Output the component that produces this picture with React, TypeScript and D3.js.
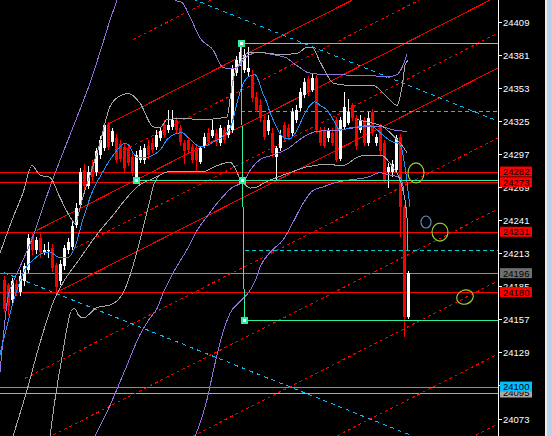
import React from 'react';
import * as d3 from 'd3';

const W = 552;
const H = 436;
const PLOT_W = 498;

// ---- candles (price units) ----
const open = [
  24190, 24186, 24173, 24187, 24180, 24189, 24199, 24227, 24216, 24226,
  24214, 24215, 24217, 24203, 24189, 24202, 24216, 24218, 24237, 24254,
  24283, 24270, 24287, 24282, 24296, 24302, 24322, 24307, 24310, 24305,
  24303, 24302, 24294, 24277, 24292, 24292, 24304, 24306, 24303, 24310,
  24321, 24317, 24320, 24326, 24319, 24306, 24309, 24303, 24302, 24290,
  24304, 24315, 24312, 24315, 24306, 24317, 24313, 24317, 24365, 24374,
  24368, 24366, 24364, 24345, 24338, 24326, 24316, 24315, 24294, 24302,
  24321, 24319, 24315, 24326, 24336, 24347, 24360, 24351, 24361, 24317,
  24317, 24310, 24315, 24326, 24293, 24320, 24323, 24338, 24327, 24317,
  24326, 24306, 24332, 24306, 24320, 24306, 24282, 24282, 24283, 24311,
  24252, 24159,
];
const high = [
  24194, 24188, 24192, 24190, 24199, 24205, 24229, 24231, 24227, 24230,
  24221, 24222, 24221, 24205, 24207, 24220, 24226, 24239, 24255, 24285,
  24288, 24287, 24292, 24302, 24312, 24322, 24324, 24319, 24314, 24309,
  24306, 24304, 24298, 24299, 24304, 24305, 24309, 24310, 24317, 24320,
  24326, 24334, 24334, 24328, 24321, 24309, 24311, 24305, 24304, 24304,
  24315, 24319, 24326, 24318, 24321, 24320, 24326, 24372, 24380, 24391,
  24386, 24387, 24368, 24349, 24343, 24329, 24330, 24319, 24304, 24317,
  24324, 24322, 24336, 24338, 24353, 24361, 24363, 24365, 24364, 24320,
  24320, 24319, 24319, 24328, 24328, 24349, 24343, 24340, 24330, 24330,
  24328, 24332, 24335, 24314, 24322, 24309, 24289, 24292, 24313, 24314,
  24254, 24198,
];
const low = [
  24163, 24161, 24170, 24177, 24177, 24185, 24196, 24211, 24212, 24209,
  24211, 24209, 24197, 24179, 24186, 24199, 24212, 24216, 24234, 24251,
  24266, 24267, 24274, 24278, 24293, 24299, 24300, 24304, 24289, 24290,
  24282, 24287, 24278, 24274, 24289, 24288, 24293, 24298, 24300, 24308,
  24310, 24315, 24317, 24315, 24304, 24288, 24298, 24289, 24281, 24288,
  24302, 24304, 24310, 24304, 24304, 24306, 24310, 24315, 24363, 24371,
  24365, 24363, 24341, 24332, 24324, 24309, 24313, 24294, 24274, 24299,
  24308, 24309, 24312, 24323, 24333, 24344, 24346, 24349, 24315, 24304,
  24302, 24307, 24304, 24290, 24291, 24317, 24321, 24325, 24300, 24315,
  24304, 24304, 24312, 24304, 24296, 24272, 24268, 24277, 24281, 24227,
  24142, 24157,
];
const close = [
  24166, 24168, 24189, 24180, 24194, 24202, 24226, 24216, 24224, 24214,
  24216, 24216, 24200, 24184, 24204, 24217, 24222, 24236, 24251, 24282,
  24270, 24282, 24277, 24299, 24309, 24321, 24303, 24316, 24292, 24293,
  24285, 24289, 24282, 24296, 24300, 24302, 24296, 24300, 24313, 24316,
  24313, 24321, 24326, 24317, 24307, 24299, 24300, 24292, 24292, 24302,
  24311, 24307, 24317, 24307, 24319, 24309, 24321, 24370, 24376, 24383,
  24381, 24370, 24344, 24334, 24327, 24311, 24326, 24298, 24302, 24313,
  24310, 24311, 24332, 24334, 24349, 24358, 24349, 24361, 24317, 24306,
  24304, 24316, 24306, 24292, 24326, 24337, 24332, 24327, 24304, 24326,
  24306, 24327, 24315, 24311, 24299, 24275, 24286, 24288, 24310, 24252,
  24159, 24196,
];

// ---- indicator lines: [bar index, price] ----
const maBlue: [number, number][] = [
  [-1, 24127], [3.25, 24182], [5.25, 24199], [7.25, 24207], [9.75, 24213], [11.5, 24214],
  [13.25, 24210], [14.75, 24209], [16, 24209], [17, 24213], [17.75, 24218], [19.5, 24239],
  [20.75, 24252], [21.5, 24260], [23.25, 24273], [24.75, 24282], [26.5, 24292], [28.25, 24300],
  [30.25, 24306], [31.5, 24303], [32.25, 24298], [33.25, 24294], [35.75, 24294], [37.25, 24296],
  [39, 24300], [40.75, 24309], [42.25, 24313], [44.5, 24315], [46, 24311], [47.25, 24307],
  [49, 24303], [50.75, 24304], [52.25, 24307], [54, 24310], [55.75, 24315], [57, 24323],
  [58.25, 24340], [59.5, 24354], [61, 24362], [62.75, 24364], [63.5, 24360], [64.75, 24348],
  [65.75, 24340], [66.5, 24332], [67.25, 24326], [68.5, 24317], [70.25, 24310], [71.5, 24310],
  [73.25, 24317], [74.75, 24328], [76.5, 24338], [77.75, 24341], [79, 24338], [80.75, 24334],
  [82.25, 24326], [84, 24317], [86.5, 24319], [89, 24320], [90.75, 24321], [92.25, 24320],
  [94, 24315], [95.75, 24310], [97.25, 24307], [98.5, 24306], [99.5, 24300], [100.25, 24286],
  [101, 24266], [101.5, 24252],
];
const bandUpper: [number, number][] = [
  [-1, 24213], [2.25, 24243], [4.75, 24264], [7, 24287], [9, 24279], [11.5, 24277],
  [14, 24260], [17, 24241], [17.75, 24238], [19.5, 24258], [21.5, 24279], [24, 24306],
  [26.5, 24337], [29, 24346], [31, 24348], [34, 24340], [37.25, 24320], [39, 24319],
  [40.75, 24326], [44.75, 24327], [49, 24326], [55.75, 24328], [56.5, 24343], [57.25, 24359],
  [59, 24374], [61.5, 24383], [66.5, 24382], [69, 24381], [73.25, 24382], [75.75, 24387],
  [77, 24387], [79, 24375], [80.75, 24364], [82.25, 24357], [85.75, 24355], [92.25, 24355],
  [94, 24351], [95.75, 24345], [97.25, 24340], [98.25, 24338], [99, 24345], [99.75, 24359],
  [100.25, 24372], [101, 24376],
];
const bandMidLeft: [number, number][] = [
  [2.25, 24058], [5.75, 24097], [9, 24137], [12.25, 24171], [14.75, 24188], [18.25, 24205],
  [24, 24232], [27.25, 24245], [30.75, 24260], [34, 24271], [37.25, 24276], [39, 24279],
];
const bandLower: [number, number][] = [
  [11.5, 24058], [12.75, 24089], [14.5, 24125], [17, 24165], [17.75, 24166], [18.5, 24161],
  [19.75, 24158], [23.25, 24167], [26.5, 24169], [29.75, 24179], [31.5, 24194], [34, 24224],
  [35.75, 24248], [36.5, 24258], [37.25, 24269], [39, 24279], [41.5, 24282], [45.75, 24282],
  [49.75, 24282], [53.25, 24287], [56.5, 24290], [57.75, 24285], [59, 24276], [60.25, 24271],
  [61.5, 24268], [63.25, 24269], [64.75, 24272], [68.25, 24277], [72.25, 24282], [75.75, 24286],
  [80.75, 24288], [84.75, 24287], [88.25, 24294], [90.75, 24296], [94, 24296], [96.5, 24289],
  [99.75, 24266], [100.75, 24243], [101, 24216],
];
const bandMidRight: [number, number][] = [
  [88.25, 24326], [90.75, 24324], [94.75, 24320], [96.5, 24315], [98.25, 24309], [99.75, 24303],
  [100.75, 24298],
];
const envLeft: [number, number][] = [
  [-1, 24112], [0, 24148], [1, 24176], [2.25, 24188], [4.75, 24207], [7.25, 24227],
  [9.75, 24252], [12.25, 24276], [14.75, 24298], [18.25, 24328], [21.5, 24357], [24.75, 24391],
  [26.5, 24410], [28.25, 24427], [29.75, 24442],
];
const envTop: [number, number][] = [
  [42, 24432], [42.75, 24427], [44.5, 24425], [46.5, 24413], [49, 24395], [52.25, 24385],
  [54.75, 24370], [56.5, 24369], [58.25, 24370], [60.25, 24378], [61.5, 24381], [64, 24383],
  [67.25, 24381], [70.75, 24378], [72.25, 24374], [74, 24370], [75.75, 24366], [77.25, 24365],
  [80.75, 24364], [84, 24364], [88.25, 24363], [92.25, 24363], [95.75, 24362], [98.25, 24364],
  [99.5, 24370], [100.75, 24381],
];
const envMid: [number, number][] = [
  [22.75, 24058], [26.5, 24084], [30.25, 24114], [34, 24144], [36.5, 24158], [38.25, 24166],
  [39.75, 24179], [42.25, 24196], [45.75, 24216], [48.25, 24232], [50.75, 24244], [53.25, 24255],
  [57.25, 24269], [59.75, 24273], [61.5, 24283], [64, 24292], [67.25, 24296], [70.75, 24301],
  [74.75, 24311], [78.25, 24316], [83.25, 24317], [90.75, 24320], [94, 24320], [97.75, 24317],
  [100.75, 24316],
];
const envLow: [number, number][] = [
  [47.75, 24058], [49, 24069], [50.75, 24089], [52.25, 24112], [54, 24137], [56.5, 24162],
  [59, 24172], [61, 24179], [62.75, 24189], [64, 24201], [67.25, 24216], [69.75, 24224],
  [72.25, 24239], [74.75, 24255], [77.25, 24266], [79.75, 24269], [83.25, 24273], [86.5, 24275],
  [90.75, 24277], [94, 24281], [96.5, 24279], [99, 24277], [100, 24266],
];

// ---- red parallel channel: price at bar 0, first bar, solid? ----
const channelBase = [24338.3, 24277.4, 24248.6, 24218.1, 24186.8, 24157.2, 24098.0, 24037.9, 23976.9, 23915.1, 23855.9];
const channelStart = [32.25, 26, 30, 8.25, 17.75, 13.25, 5.25, -1, -1, -1, -1];
const channelSolid = [false, true, false, true, false, true, false, false, false, false, false];
const channelSlope = 1.72; // price per bar

// ---- cyan dashed diagonals ----
const cyanDiagBase = [24491.9, 24196.5];
const cyanDiagStart = [-1, 0];
const cyanSlope = -1.354;

// ---- horizontal lines ----
const hLines = [24282, 24273, 24231, 24196, 24180, 24100, 24095];
const hLineColors = ['#ff0000', '#ff0000', '#ff0000', '#8c8c8c', '#ff0000', '#00bfff', '#a9a9a9'];
const cyanH: [number, number][] = [[59.25, 24333.2], [60.25, 24215.6]];

// ---- green objects ----
const greenH: [number, number][] = [[59.25, 24390.8], [33, 24274.5], [60.1, 24156.4]];
const greenV: [number, number][] = [[59.25, 24390.8], [60.1, 24156.4]];
const greenMarks: [number, number][] = [[59.25, 24390.8], [33, 24274.5], [59.6, 24274.5], [60.1, 24156.4]];

// ---- ellipses: [bar, price, rx, ry, rotation] ----
const ellipses: [number, number, number, number, number][] = [
  [103, 24280.8, 8, 10, 0],
  [105.5, 24239.3, 5, 6, 0],
  [109, 24230.8, 8, 9, 0],
  [115.25, 24175.8, 8.5, 7, -20],
];
const ellipseColors = ['#9acd32', '#5b87b8', '#9acd32', '#9acd32'];

// ---- axis ----
const tickLabels = [24409, 24381, 24353, 24325, 24297, 24269, 24241, 24213, 24185, 24157, 24129, 24101, 24073];
const tagValues = [24282, 24273, 24231, 24196, 24180, 24095, 24100];
const tagColors = ['#ff0000', '#ff0000', '#ff0000', '#707070', '#ff0000', '#a9a9a9', '#00bfff'];

const FONT = 'Liberation Sans, Arial, sans-serif';

export default function App() {
  const xs = d3.scaleLinear().domain([-1, 123.25]).range([0, 497]);
  const ys = d3.scaleLinear().domain([24073, 24409]).range([418.5, 21.5]);
  const lastBar = xs.invert(PLOT_W);

  const curve = d3
    .line<[number, number]>()
    .x((d) => xs(d[0]))
    .y((d) => ys(d[1]))
    .curve(d3.curveMonotoneX);
  const straight = d3
    .line<[number, number]>()
    .x((d) => xs(d[0]))
    .y((d) => ys(d[1]));

  const indicatorLines: { pts: [number, number][]; color: string }[] = [
    { pts: envLeft, color: '#9370db' },
    { pts: envTop, color: '#9370db' },
    { pts: envMid, color: '#9370db' },
    { pts: envLow, color: '#9370db' },
    { pts: bandUpper, color: '#a6a6a6' },
    { pts: bandMidLeft, color: '#a6a6a6' },
    { pts: bandLower, color: '#a6a6a6' },
    { pts: bandMidRight, color: '#a6a6a6' },
    { pts: maBlue, color: '#1e90ff' },
  ];

  return (
    <>
      <style>{'body{margin:0;background:#000;}'}</style>
      <svg width={W} height={H} style={{ display: 'block' }}>
        <defs>
          <clipPath id="plot">
            <rect x={0} y={0} width={PLOT_W} height={H} />
          </clipPath>
        </defs>
        <rect x={0} y={0} width={W} height={H} fill="#000" />
        <rect x={545} y={0} width={2} height={H} fill="#ececec" />
        <rect x={547} y={0} width={5} height={H} fill="#b9d1ea" />

        <g clipPath="url(#plot)" shapeRendering="crispEdges">
          {/* horizontal price lines */}
          {hLines.map((v, k) => (
            <line key={'h' + k} x1={0} x2={PLOT_W} y1={Math.round(ys(v)) + 0.5} y2={Math.round(ys(v)) + 0.5}
              stroke={hLineColors[k]} strokeWidth={1} />
          ))}

          {/* red channel */}
          {channelBase.map((b, k) => {
            const s = channelStart[k];
            const pts: [number, number][] = [[s, b + channelSlope * s], [lastBar, b + channelSlope * lastBar]];
            return (
              <path key={'c' + k} d={straight(pts) || ''} fill="none" stroke="#ff0000" strokeWidth={1}
                strokeDasharray={channelSolid[k] ? undefined : '3,3'} />
            );
          })}

          {/* cyan diagonals */}
          {cyanDiagBase.map((b, k) => {
            const s = cyanDiagStart[k];
            const pts: [number, number][] = [[s, b + cyanSlope * s], [lastBar, b + cyanSlope * lastBar]];
            return (
              <path key={'cd' + k} d={straight(pts) || ''} fill="none" stroke="#00bfff" strokeWidth={1}
                strokeDasharray="4,4" />
            );
          })}
          {cyanH.map((d, k) => (
            <line key={'ch' + k} x1={xs(d[0])} x2={PLOT_W} y1={Math.round(ys(d[1])) + 0.5} y2={Math.round(ys(d[1])) + 0.5}
              stroke="#00ced1" strokeWidth={1} strokeDasharray="4,3" />
          ))}

          {/* candles */}
          {close.map((c, i) => {
            const o = open[i];
            const up = c >= o;
            const col = up ? '#ffffff' : '#ff0000';
            const cx = Math.round(xs(i));
            const top = Math.round(ys(Math.max(o, c)));
            const bot = Math.round(ys(Math.min(o, c)));
            return (
              <g key={'k' + i}>
                <line x1={cx + 0.5} x2={cx + 0.5} y1={Math.round(ys(high[i]))} y2={Math.round(ys(low[i]))} stroke={col} strokeWidth={1} />
                <rect x={cx - 1} y={top} width={3} height={Math.max(1, bot - top)} fill={col} />
              </g>
            );
          })}

          {/* indicators */}
          {indicatorLines.map((l, k) => (
            <path key={'ind' + k} d={curve(l.pts) || ''} fill="none" stroke={l.color} strokeWidth={1} />
          ))}

          {/* green objects */}
          {greenH.map((d, k) => (
            <line key={'gh' + k} x1={xs(d[0])} x2={PLOT_W} y1={Math.round(ys(d[1])) + 0.5} y2={Math.round(ys(d[1])) + 0.5}
              stroke="#2ef0a0" strokeWidth={1} />
          ))}
          <path d={straight(greenV) || ''} stroke="#2ef0a0" strokeWidth={1} fill="none" />
          {greenMarks.map((d, k) => (
            <rect key={'gm' + k} x={Math.round(xs(d[0])) - 2} y={Math.round(ys(d[1])) - 2} width={5} height={5}
              fill="#ffffff" stroke="#2ef0a0" strokeWidth={1.2} />
          ))}
        </g>

        {/* ellipses */}
        <g clipPath="url(#plot)">
          {ellipses.map((e, k) => (
            <ellipse key={'e' + k} cx={xs(e[0])} cy={ys(e[1])} rx={e[2]} ry={e[3]}
              transform={`rotate(${e[4]} ${xs(e[0])} ${ys(e[1])})`}
              fill="none" stroke={ellipseColors[k]} strokeWidth={1.2} />
          ))}
        </g>

        {/* right axis */}
        <line x1={498.5} x2={498.5} y1={0} y2={H} stroke="#ffffff" strokeWidth={1} />
        {tickLabels.map((v, k) => {
          const yy = Math.round(ys(v)) + 0.5;
          return (
            <g key={'t' + k}>
              <line x1={498} x2={502} y1={yy} y2={yy} stroke="#ffffff" strokeWidth={1} />
              <text x={503} y={yy + 3.5} fill="#ffffff" fontFamily={FONT} fontSize={9.5}>{String(v)}</text>
            </g>
          );
        })}
        {tagValues.map((v, k) => {
          const yy = ys(v);
          return (
            <g key={'tag' + k}>
              <rect x={500} y={yy - 5} width={32} height={10} fill={tagColors[k]} />
              <text x={503} y={yy + 3.5} fill="#000000" fontFamily={FONT} fontSize={9.5}>{String(v)}</text>
            </g>
          );
        })}
      </svg>
    </>
  );
}
